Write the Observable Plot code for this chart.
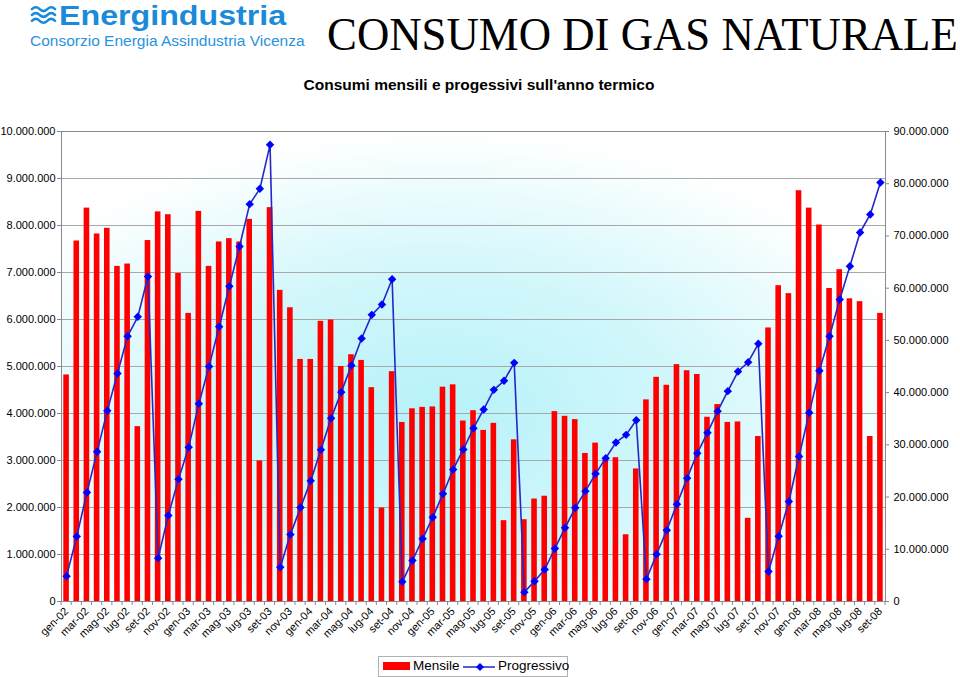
<!DOCTYPE html>
<html><head><meta charset="utf-8">
<script src="https://cdn.jsdelivr.net/npm/d3@7"></script>
<script src="https://cdn.jsdelivr.net/npm/@observablehq/plot@0.6"></script>
<style>
body{margin:0;background:#fff;font-family:"Liberation Sans",Arial,sans-serif;}
#wrap{position:relative;width:960px;height:677px;overflow:hidden;background:#fff;}
#chart{position:absolute;left:0;top:0;}
.abs{position:absolute;white-space:nowrap;}
#logo1{left:59px;top:2px;font-size:28px;line-height:28px;font-weight:bold;color:#1b8ad8;transform:scaleX(1.15);transform-origin:left top;}
#logo2{left:30px;top:32.5px;font-size:15.5px;line-height:15.5px;color:#2a93dd;}
#waves{left:30px;top:4px;}
#title{left:327px;top:7px;font-family:"Liberation Serif","Times New Roman",serif;font-size:47px;color:#000;transform:scaleX(0.953);transform-origin:left top;}
#subtitle{left:0;width:958px;text-align:center;top:76px;font-size:15.5px;font-weight:bold;color:#000;}
#legend{left:378px;top:656px;width:188px;height:19px;border:1px solid #b0b0b0;background:#fff;font-size:13.5px;}
</style></head><body>
<div id="wrap">
  <div id="chart"></div>
  <svg id="waves" class="abs" width="27" height="22" viewBox="0 0 28 22">
    <g fill="none" stroke="#1b8ad8" stroke-width="2.6" stroke-linecap="round">
      <path d="M2 5 Q6 1 10 5 T18 5 T26 5"/>
      <path d="M2 11 Q6 7 10 11 T18 11 T26 11"/>
      <path d="M2 17 Q6 13 10 17 T18 17 T26 17"/>
    </g>
  </svg>
  <div id="logo1" class="abs">Energindustria</div>
  <div id="logo2" class="abs">Consorzio Energia Assindustria Vicenza</div>
  <div id="title" class="abs">CONSUMO DI GAS NATURALE</div>
  <div id="subtitle" class="abs">Consumi mensili e progessivi sull'anno termico</div>
  <div id="legend" class="abs">
    <span style="position:absolute;left:4px;top:5px;width:27px;height:8px;background:#ff0000;"></span>
    <span style="position:absolute;left:34px;top:1px;">Mensile</span>
    <svg style="position:absolute;left:84px;top:2px;" width="34" height="16"><line x1="0" y1="8" x2="32" y2="8" stroke="#2626c8" stroke-width="1.5"/><path d="M17 4 L21 8 L17 12 L13 8 Z" fill="#0000ff"/></svg>
    <span style="position:absolute;left:119px;top:1px;">Progressivo</span>
  </div>
</div>
<script>
// Categories (months)
const months = [
 "gen-02","feb-02","mar-02","apr-02","mag-02","giu-02","lug-02","ago-02","set-02","ott-02","nov-02","dic-02",
 "gen-03","feb-03","mar-03","apr-03","mag-03","giu-03","lug-03","ago-03","set-03","ott-03","nov-03","dic-03",
 "gen-04","feb-04","mar-04","apr-04","mag-04","giu-04","lug-04","ago-04","set-04","ott-04","nov-04","dic-04",
 "gen-05","feb-05","mar-05","apr-05","mag-05","giu-05","lug-05","ago-05","set-05","ott-05","nov-05","dic-05",
 "gen-06","feb-06","mar-06","apr-06","mag-06","giu-06","lug-06","ago-06","set-06","ott-06","nov-06","dic-06",
 "gen-07","feb-07","mar-07","apr-07","mag-07","giu-07","lug-07","ago-07","set-07","ott-07","nov-07","dic-07",
 "gen-08","feb-08","mar-08","apr-08","mag-08","giu-08","lug-08","ago-08","set-08"
];
// Monthly consumption (millions)
const mensile = [
 4.82,7.67,8.37,7.82,7.94,7.13,7.18,3.72,7.68,8.29,8.23,6.98,
 6.13,8.30,7.13,7.65,7.72,7.65,8.13,2.99,8.38,6.62,6.25,5.15,
 5.15,5.96,5.99,5.00,5.25,5.13,4.55,1.99,4.89,3.81,4.10,4.13,
 4.14,4.56,4.61,3.84,4.06,3.64,3.79,1.72,3.44,1.74,2.18,2.24,
 4.04,3.94,3.87,3.15,3.37,3.05,3.06,1.42,2.82,4.29,4.77,4.60,
 5.04,4.91,4.83,3.92,4.19,3.81,3.82,1.77,3.51,5.82,6.72,6.55,
 8.74,8.37,8.01,6.66,7.06,6.44,6.38,3.51,6.13
];
// Progressive consumption over the thermal year (millions)
const progressivo = [
 4.85,12.45,20.87,28.66,36.51,43.66,50.81,54.51,62.23,8.30,16.47,23.43,
 29.55,37.85,45.00,52.60,60.38,67.98,76.09,79.02,87.45,6.57,12.83,18.00,
 23.10,29.04,35.10,40.09,45.19,50.36,54.89,56.87,61.72,3.77,7.85,12.00,
 16.15,20.62,25.28,29.11,33.19,36.77,40.53,42.26,45.70,1.79,3.89,6.13,
 10.15,14.11,17.94,21.13,24.45,27.45,30.45,31.91,34.72,4.28,9.06,13.66,
 18.64,23.62,28.40,32.30,36.45,40.28,44.04,45.83,49.34,5.74,12.51,19.15,
 27.77,36.13,44.17,50.81,57.83,64.21,70.66,74.11,80.23
];
// Tick values (millions)
const leftTicks = [0,1,2,3,4,5,6,7,8,9,10];
const rightTicks = [0,10,20,30,40,50,60,70,80,90];
const xLabelTicks = months.filter((m, i) => i % 2 === 0);
const axisRatio = 90 / 10;

const data = months.map((m, i) => ({m, mens: mensile[i], prog: progressivo[i]}));
const fmt = d3.formatLocale({decimal: ",", thousands: ".", grouping: [3], currency: ["", "€"]}).format(",.0f");

function background(index, scales, values, dim) {
  const {width, height, marginLeft, marginRight, marginTop, marginBottom} = dim;
  const g = d3.create("svg:g");
  const grad = g.append("defs").append("radialGradient")
    .attr("id", "bgGrad").attr("cx", "0.46").attr("cy", "0.6").attr("r", "0.6");
  grad.append("stop").attr("offset", "0").attr("stop-color", "#b6f2f9");
  grad.append("stop").attr("offset", "0.5").attr("stop-color", "#d2f7fb");
  grad.append("stop").attr("offset", "1").attr("stop-color", "#ffffff");
  g.append("rect").attr("x", marginLeft).attr("y", marginTop)
    .attr("width", width - marginLeft - marginRight)
    .attr("height", height - marginTop - marginBottom)
    .attr("fill", "url(#bgGrad)");
  return g.node();
}

function bandTicks(index, scales, values, dim) {
  const {width, height, marginLeft, marginRight, marginBottom} = dim;
  const step = (width - marginLeft - marginRight) / months.length;
  const bw = scales.x.bandwidth ? scales.x.bandwidth() : 0;
  const y0 = height - marginBottom;
  const g = d3.create("svg:g").attr("stroke", "#888").attr("stroke-width", 1);
  months.forEach((m, i) => {
    const e = scales.x(m) + bw / 2 - step / 2;
    g.append("line").attr("x1", e).attr("x2", e).attr("y1", y0).attr("y2", y0 + 4);
    if (i === months.length - 1) {
      g.append("line").attr("x1", e + step).attr("x2", e + step).attr("y1", y0).attr("y2", y0 + 4);
    }
  });
  return g.node();
}

const chart = Plot.plot({
  width: 960,
  height: 650,
  marginLeft: 61,
  marginRight: 75,
  marginTop: 131,
  marginBottom: 49,
  style: {background: "transparent", fontFamily: "'Liberation Sans', Arial, sans-serif", fontSize: "11px", color: "#000", overflow: "visible"},
  x: {type: "band", domain: months, paddingInner: 0.45, paddingOuter: 0.225, round: false, label: null},
  y: {domain: [0, 10], label: null},
  marks: [
    background,
    Plot.gridY(leftTicks, {stroke: "#a8a8a8", strokeOpacity: 1, strokeWidth: 1}),
    Plot.barY(data, {x: "m", y: "mens", fill: "#ff0000"}),
    Plot.line(data, {x: "m", y: d => d.prog / axisRatio, stroke: "#2626c8", strokeWidth: 1.6}),
    Plot.dot(data, {x: "m", y: d => d.prog / axisRatio, symbol: "diamond2", r: 3.8, fill: "#0000ff", stroke: "none"}),
    Plot.frame({stroke: "#8a8a8a", strokeWidth: 1}),
    Plot.axisY(leftTicks, {anchor: "left", tickSize: 4, tickPadding: 2, stroke: "#888", tickFormat: d => fmt(d * 1e6), fontSize: 11}),
    Plot.axisY(rightTicks.map(v => v / axisRatio), {anchor: "right", tickSize: 3, tickPadding: 5, stroke: "#888", tickFormat: d => fmt(Math.round(d * axisRatio) * 1e6), fontSize: 11}),
    Plot.axisX(xLabelTicks, {anchor: "bottom", tickSize: 0, tickPadding: 8, tickRotate: -45, fontSize: 11, label: null}),
    bandTicks
  ]
});
document.getElementById("chart").appendChild(chart);
</script>
</body></html>
